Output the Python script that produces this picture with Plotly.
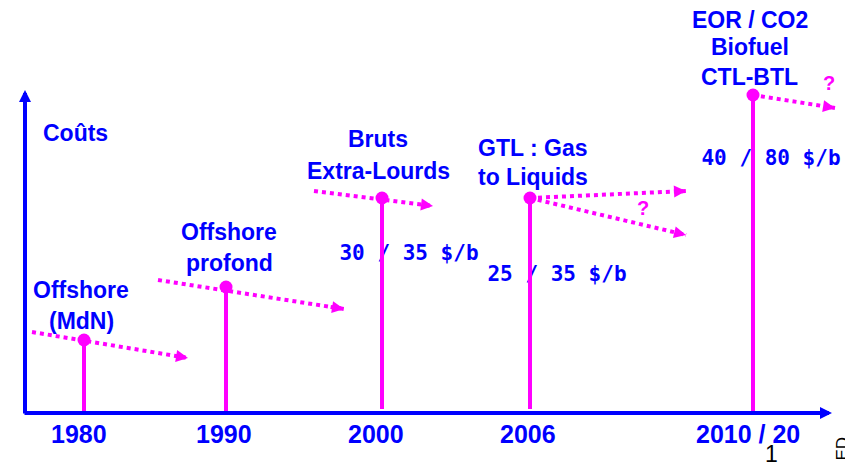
import plotly.graph_objects as go

# ---------------- data ----------------
years = ["1980", "1990", "2000", "2006", "2010 / 20"]
year_pos = [84, 226, 382, 530, 753]        # position of each era on the time axis
cost_level = [73, 126, 215, 215, 318]      # relative cost level (top of each stem)
stem_base = [0, 0, 4, 4, 0]

# dotted trend arrows (start -> end) in the same units
trend_from_x = [32, 158, 314, 530, 530, 753]
trend_from_y = [81, 133, 222, 215, 215, 318]
trend_to_x = [188, 344, 433, 686, 686, 835]
trend_to_y = [55, 104, 207, 222, 178, 305]

price_labels = ["30 / 35 $/b", "25 / 35 $/b", "40 / 80 $/b"]

BLUE = "#0000FF"
MAGENTA = "#FF00FF"
SANS = "Liberation Sans, Arial, sans-serif"
MONO = "DejaVu Sans Mono, monospace"

fig = go.Figure()

# price labels (drawn first so the stems pass over them)
fig.add_trace(go.Scatter(
    x=[409, 557, 771], y=[158, 137, 253], mode="text", text=price_labels,
    textposition="middle center",
    textfont=dict(family=MONO, size=21, color=BLUE, weight="bold"),
    hoverinfo="skip", showlegend=False))

# stems
sx, sy = [], []
for p, b, c in zip(year_pos, stem_base, cost_level):
    sx += [p, p, None]
    sy += [b, c, None]
fig.add_trace(go.Scatter(x=sx, y=sy, mode="lines",
                         line=dict(color=MAGENTA, width=4),
                         hoverinfo="skip", showlegend=False))

# dotted trend lines
tx, ty = [], []
for x0, y0, x1, y1 in zip(trend_from_x, trend_from_y, trend_to_x, trend_to_y):
    tx += [x0, x1, None]
    ty += [y0, y1, None]
fig.add_trace(go.Scatter(x=tx, y=ty, mode="lines",
                         line=dict(color=MAGENTA, width=4, dash="dot"),
                         hoverinfo="skip", showlegend=False))

# dots at top of stems
fig.add_trace(go.Scatter(x=year_pos, y=cost_level, mode="markers",
                         marker=dict(color=MAGENTA, size=13),
                         hoverinfo="skip", showlegend=False))

annotations = []

# arrowheads of the trends
for x0, y0, x1, y1 in zip(trend_from_x, trend_from_y, trend_to_x, trend_to_y):
    annotations.append(dict(
        x=x1, y=y1, ax=x1 - 0.08 * (x1 - x0), ay=y1 - 0.08 * (y1 - y0),
        xref="x", yref="y", axref="x", ayref="y", text="",
        showarrow=True, arrowhead=2, arrowsize=0.6, arrowwidth=4,
        arrowcolor=MAGENTA, standoff=0, startstandoff=0))

# axes with arrows
annotations.append(dict(x=832, y=0, ax=23, ay=0, xref="x", yref="y",
                        axref="x", ayref="y", text="", showarrow=True,
                        arrowhead=2, arrowsize=0.6, arrowwidth=4,
                        arrowcolor=BLUE, standoff=0, startstandoff=0))
annotations.append(dict(x=25, y=323, ax=25, ay=-2, xref="x", yref="y",
                        axref="x", ayref="y", text="", showarrow=True,
                        arrowhead=2, arrowsize=0.6, arrowwidth=4,
                        arrowcolor=BLUE, standoff=0, startstandoff=0))

def label(text, x, y, size=23, color=BLUE, xanchor="center", yanchor="middle",
          family=SANS, weight="bold", angle=0, yshift=0):
    annotations.append(dict(x=x, y=y, xref="x", yref="y", text=text,
                            showarrow=False, xanchor=xanchor, yanchor=yanchor,
                            textangle=angle, yshift=yshift,
                            font=dict(family=family, size=size, color=color,
                                      weight=weight)))

label("Coûts", 75, 280)
label("Offshore", 81, 123)
label("(MdN)", 81, 92)
label("Offshore", 229, 181)
label("profond", 229, 150)
label("Bruts", 378, 274)
label("Extra-Lourds", 378, 242)
label("GTL : Gas", 476, 265, xanchor="left")
label("to Liquids", 476, 236, xanchor="left")
label("EOR / CO2", 750, 393)
label("Biofuel", 750, 366)
label("CTL-BTL", 749, 336)
label("?", 643, 205, size=20, color=MAGENTA)
label("?", 829, 330, size=20, color=MAGENTA)

year_centers = [78.5, 223.5, 375.5, 527.5, 748]
for t, xc in zip(years, year_centers):
    label(t, xc, -21, size=25)

label("1", 771, -51, size=23, color="#000000", weight="normal",
      yanchor="bottom", yshift=-5)
label("ED", 853, -36, size=17, color="#000000", weight="normal", angle=-90,
      xanchor="right")

# the page body has an 8px margin: the figure fills the rest of the window
fig.update_layout(
    width=845, height=456, autosize=False,
    margin=dict(l=0, r=0, t=0, b=0),
    paper_bgcolor="white", plot_bgcolor="white",
    xaxis=dict(range=[8, 853], visible=False, fixedrange=True),
    yaxis=dict(range=[-51, 405], visible=False, fixedrange=True),
    annotations=annotations,
    showlegend=False,
)

fig.write_html("out.html")
